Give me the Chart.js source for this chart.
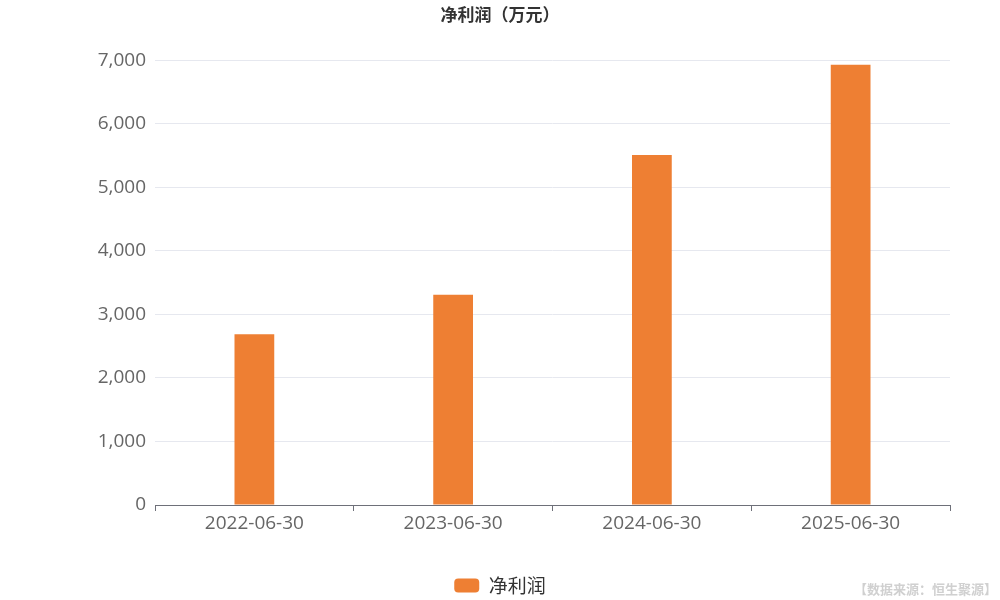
<!DOCTYPE html>
<html><head><meta charset="utf-8">
<script src="https://cdn.jsdelivr.net/npm/chart.js@4"></script>
<style>html,body{margin:0;padding:0;background:#fff;}#wrap{width:1000px;height:600px;}</style>
</head><body><div id="wrap"><canvas id="c" width="1000" height="600"></canvas></div>
<script>
const categories = ["2022-06-30","2023-06-30","2024-06-30","2025-06-30"];
const netProfit = [2690, 3310, 5510, 6930];
const yTicks = [0,1000,2000,3000,4000,5000,6000,7000];
const seriesName = "净利润";
const titleText = "净利润（万元）";
const sourceText = "【数据来源：恒生聚源】";
const FONT = "'Noto Sans CJK SC','Noto Sans',sans-serif";
const NUMFONT = "'Open Sans','Noto Sans',sans-serif";

const watermark = {
  id:'watermark',
  afterDraw(chart){
    const ctx = chart.ctx;
    ctx.save();
    ctx.font = "bold 13px " + FONT;
    ctx.fillStyle = "#d0d0d0";
    ctx.textAlign = "right";
    ctx.textBaseline = "middle";
    ctx.fillText(sourceText, 997, 589);
    ctx.restore();
  }
};

new Chart(document.getElementById('c'), {
  type:'bar',
  data:{labels:categories, datasets:[{label:seriesName, data:netProfit, backgroundColor:'#ee7f33', borderWidth:0, barPercentage:0.2, categoryPercentage:1}]},
  plugins:[watermark],
  options:{
    responsive:false, animation:false,
    layout:{padding:{left:0,right:0,top:4,bottom:-5}},
    plugins:{
      title:{display:true, text:titleText, color:'#333', font:{family:FONT,size:17,weight:'bold'}, padding:{top:0,bottom:36}},
      legend:{position:'bottom', labels:{color:'#333', font:{family:FONT,size:19}, boxWidth:25, boxHeight:14, useBorderRadius:true, borderRadius:4, padding:1}},
      tooltip:{enabled:false}
    },
    scales:{
      x:{grid:{display:true, drawOnChartArea:false, offset:true, color:'#6e7079', tickLength:6}, border:{color:'#6e7079'},
         afterFit(s){s.height = 70;},
         ticks:{color:'#666', font:{family:NUMFONT,size:19}, padding:1}},
      y:{min:0, max:7000, afterBuildTicks(s){s.ticks = yTicks.map(v=>({value:v}));},
         afterFit(s){s.width = 155;},
         grid:{color:'#e6e8ef', drawTicks:false}, border:{display:false},
         ticks:{color:'#666', font:{family:NUMFONT,size:19}, padding:9, callback:v=>v.toLocaleString('en-US')}},
      yRight:{position:'right', min:0, max:7000, display:true,
         afterFit(s){s.width = 50;},
         grid:{display:false, drawTicks:false}, border:{display:false},
         ticks:{display:false}}
    }
  }
});
</script></body></html>
